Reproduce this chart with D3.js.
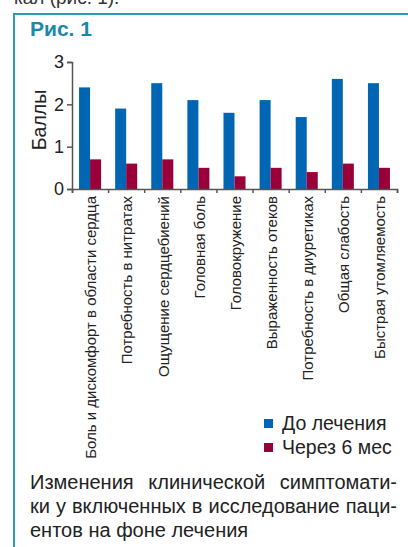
<!DOCTYPE html>
<html>
<head>
<meta charset="utf-8">
<script src="https://cdn.jsdelivr.net/npm/d3@7"></script>
<style>
  body { margin: 0; background: #fff; }
  svg { display: block; font-family: "Liberation Sans", Arial, sans-serif; }
</style>
</head>
<body>
<svg id="chart" width="408" height="547"></svg>
<script>
// categories and values (баллы)
var categories = [
  "Боль и дискомфорт в области сердца",
  "Потребность в нитратах",
  "Ощущение сердцебиений",
  "Головная боль",
  "Головокружение",
  "Выраженность отеков",
  "Потребность в диуретиках",
  "Общая слабость",
  "Быстрая утомляемость"
];
var series = ["До лечения", "Через 6 мес"];
var before = [2.4, 1.9, 2.5, 2.1, 1.8, 2.1, 1.7, 2.6, 2.5];
var after6 = [0.7, 0.6, 0.7, 0.5, 0.3, 0.5, 0.4, 0.6, 0.5];
var yTicks = [0, 1, 2, 3];
var captionLines = [
  "Изменения клинической симптомати-",
  "ки у включенных в исследование паци-",
  "ентов на фоне лечения"
];

var colors = { "До лечения": "#0066b3", "Через 6 мес": "#990039" };
var teal = "#2b9ab4";

var svg = d3.select("#chart");

// text above the frame (cut off by the page edge, as in the scan)
svg.append("text")
  .attr("x", 14).attr("y", 4)
  .attr("font-size", 19).attr("fill", "#333")
  .text("кал (рис. 1).");

// frame
svg.append("path")
  .attr("d", "M14,547 V14 H408")
  .attr("fill", "none")
  .attr("stroke", teal)
  .attr("stroke-width", 2);

svg.append("text")
  .attr("x", 30).attr("y", 36)
  .attr("font-size", 21).attr("font-weight", "bold")
  .attr("fill", "#1a89a6")
  .text("Рис. 1");

var data = categories.map(function (c, i) {
  return { cat: c, values: [before[i], after6[i]] };
});

var x = d3.scaleBand()
  .domain(categories)
  .range([72, 397])
  .paddingInner(0.39)
  .paddingOuter(0.195);

var xs = d3.scaleBand().domain(series).range([0, x.bandwidth()]);

var y = d3.scaleLinear().domain([0, 3]).range([189, 62]);

// bars
var g = svg.append("g");
g.selectAll("g.cat")
  .data(data)
  .enter().append("g")
  .attr("class", "cat")
  .attr("transform", function (d) { return "translate(" + x(d.cat) + ",0)"; })
  .selectAll("rect")
  .data(function (d) { return d.values.map(function (v, k) { return { s: series[k], v: v }; }); })
  .enter().append("rect")
  .attr("x", function (d) { return xs(d.s); })
  .attr("y", function (d) { return y(d.v); })
  .attr("width", xs.bandwidth())
  .attr("height", function (d) { return y(0) - y(d.v); })
  .attr("fill", function (d) { return colors[d.s]; });

// y axis
var yAxis = svg.append("g")
  .attr("transform", "translate(72,0)")
  .call(d3.axisLeft(y).tickValues(yTicks).tickSize(5).tickPadding(3).tickFormat(d3.format("d")));
yAxis.selectAll("text").attr("font-size", 18).attr("fill", "#222")
  .attr("font-family", "'Liberation Sans', Arial, sans-serif");

// x axis: ticks at category boundaries
var xb = d3.scaleLinear().domain([0, categories.length]).range([72, 397]);
svg.append("g")
  .attr("transform", "translate(0,189)")
  .call(d3.axisBottom(xb).tickValues(d3.range(categories.length + 1)).tickSize(4).tickFormat(""));

svg.selectAll(".domain, .tick line").attr("stroke", "#555").attr("stroke-width", 1.5);

// category labels
svg.append("g").selectAll("text")
  .data(categories)
  .enter().append("text")
  .attr("transform", function (d) {
    return "translate(" + (x(d) + x.bandwidth() / 2 + 1) + ",196) rotate(-90)";
  })
  .attr("text-anchor", "end")
  .attr("dy", "0.35em")
  .attr("font-size", 15)
  .attr("fill", "#222")
  .text(function (d) { return d; });

// y label
svg.append("text")
  .attr("transform", "translate(46,120) rotate(-90)")
  .attr("text-anchor", "middle")
  .attr("font-size", 19.5)
  .attr("fill", "#222")
  .text("Баллы");

// legend
var leg = svg.append("g").selectAll("g")
  .data(series)
  .enter().append("g")
  .attr("transform", function (d, i) { return "translate(264," + (430 + i * 24) + ")"; });
leg.append("rect")
  .attr("x", 0).attr("y", -11)
  .attr("width", 9).attr("height", 9)
  .attr("fill", function (d) { return colors[d]; });
leg.append("text")
  .attr("x", 18).attr("y", 0)
  .attr("font-size", 19.5).attr("fill", "#222")
  .text(function (d) { return d; });

// caption, first two lines justified
var capLeft = 30, capRight = 397, capSize = 20;
captionLines.forEach(function (line, i) {
  var yy = 489 + i * 24;
  var words = line.split(" ");
  var t = svg.append("g");
  var nodes = words.map(function (w) {
    return t.append("text").attr("y", yy).attr("font-size", capSize).attr("fill", "#222").text(w);
  });
  var widths = nodes.map(function (n) { return n.node().getComputedTextLength(); });
  var total = d3.sum(widths);
  var gap = i < 2 ? (capRight - capLeft - total) / (words.length - 1) : capSize * 0.278;
  var cx = capLeft;
  nodes.forEach(function (n, k) {
    n.attr("x", cx);
    cx += widths[k] + gap;
  });
});
</script>
</body>
</html>
